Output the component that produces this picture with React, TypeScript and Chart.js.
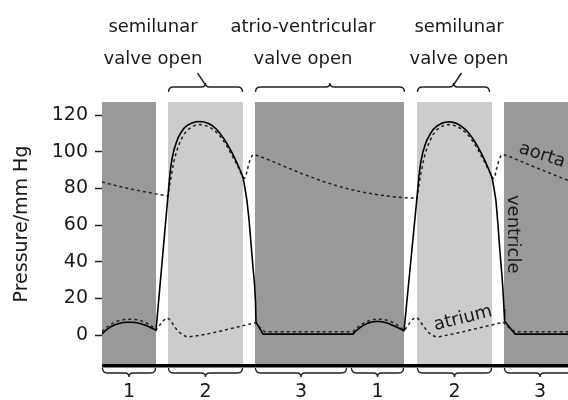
import { useEffect, useRef } from 'react';
import { Chart, registerables } from 'chart.js';

Chart.register(...registerables);

// time axis (arbitrary units, one cardiac cycle ≈ 249)
const ventricleT = [0, 3, 6, 9, 13, 17, 21, 25, 29, 33, 37, 41, 45, 49, 52, 54,
  66, 67, 68, 69, 70, 72, 74, 76, 79, 82, 86, 90, 94, 98, 102, 106, 110, 114, 118, 122, 126, 130, 134, 138, 141, 143, 145, 147, 149, 151, 152.5, 153.5, 154, 161,
  251, 254, 258, 262, 266, 270, 274, 278, 282, 286, 290, 294, 298, 302,
  315, 316, 317, 318, 319, 321, 323, 325, 328, 331, 335, 339, 343, 347, 351, 355, 359, 363, 367, 371, 375, 379, 383, 387, 390, 392, 394, 396, 398, 400, 401, 402, 402.6, 413, 466];
const ventricleP = [0.5, 2.2, 3.5, 4.6, 5.6, 6.3, 6.8, 7.0, 7.0, 6.8, 6.4, 5.8, 5.0, 4.0, 3.2, 2.5,
  76, 82, 88, 92.5, 96, 101, 104.5, 107.5, 110.5, 112.8, 114.6, 115.7, 116.3, 116.5, 116.2, 115.5, 114.3, 112.5, 110, 107, 103.5, 99.5, 95, 90, 86, 80, 73, 63, 50, 37, 28, 18, 7, 0.5,
  0.5, 2.3, 4, 5.5, 6.5, 7.1, 7.4, 7.4, 7.0, 6.4, 5.5, 4.5, 3.4, 2.3,
  75, 81, 87, 91.5, 95, 100, 103.5, 106.5, 109.5, 112, 114, 115.3, 116, 116.3, 116, 115.3, 114, 112.3, 110, 107, 103.5, 99.5, 95, 90, 86, 80, 73, 60, 45, 32, 24, 14, 7.5, 0.5, 0.5];

const aortaT = [0, 10, 20, 30, 40, 50, 60, 66, 68, 70, 72, 74, 76, 79, 82, 86, 90, 94, 98, 102, 106, 110, 114, 118, 122, 126, 130, 134, 138, 141, 142.5, 144, 146, 148, 150, 152, 160, 170, 180, 190, 200, 210, 220, 230, 240, 250, 260, 270, 280, 290, 300, 310, 315,
  317, 319, 321, 323, 325, 328, 331, 335, 339, 343, 347, 351, 355, 359, 363, 367, 371, 375, 379, 383, 387, 390, 391.5, 393, 395, 397, 399, 401, 410, 420, 430, 440, 450, 460, 466];
const aortaP = [83.5, 82, 80.7, 79.5, 78.4, 77.4, 76.4, 75.8, 83, 89, 95, 99, 102.5, 106.5, 109.5, 112, 113.6, 114.5, 114.8, 114.5, 113.8, 112.5, 110.8, 108.5, 105.5, 102, 98, 94, 89.5, 86, 85.5, 87, 91.5, 95.5, 97.8, 98.5, 97, 94.8, 92.5, 90.2, 88, 86, 84, 82.2, 80.6, 79.2, 78, 77, 76.2, 75.5, 75, 74.7, 74.5,
  82, 88.5, 94, 98.5, 102, 106, 109.3, 112, 113.6, 114.5, 114.8, 114.5, 113.8, 112.5, 110.8, 108.5, 105.5, 102, 98, 94, 89.5, 86, 85.5, 87, 91.5, 95.5, 97.8, 98.5, 96.8, 94.5, 92.2, 90, 87.8, 85.6, 84.4];

const atriumT = [0, 4, 8, 12, 16, 20, 25, 30, 35, 40, 44, 48, 51, 54, 57, 60, 63, 65, 67, 69, 72, 75, 78, 81, 84, 88, 98, 108, 118, 128, 138, 148, 153, 156, 160, 163,
  251, 254, 258, 262, 266, 270, 275, 280, 285, 290, 294, 298, 302, 305, 308, 311, 314, 316, 318, 321, 324, 327, 330, 333, 337, 348, 358, 368, 378, 388, 398, 401, 404, 409, 414, 466];
const atriumP = [1.8, 4, 5.6, 6.8, 7.7, 8.3, 8.6, 8.6, 8.3, 7.6, 6.7, 5.5, 4.3, 2.7, 4.8, 7, 8.8, 9.3, 8.8, 7.5, 5, 2.8, 1.2, 0, -0.8, -0.9, -0.2, 0.9, 2.1, 3.4, 4.7, 6, 6.7, 5, 3, 1.8,
  1.8, 3.5, 5.3, 6.6, 7.6, 8.3, 8.7, 8.6, 8.1, 7.1, 5.9, 4.4, 2.3, 4.5, 6.8, 8.7, 9.6, 9, 7.6, 5.2, 3, 1.2, 0, -0.8, -0.9, 0.2, 1.4, 2.7, 4, 5.3, 6.6, 7.1, 5.5, 3, 1.8, 1.8];

const tickValues = [0, 20, 40, 60, 80, 100, 120];

// shaded phases
const regionStart = [0, 66, 153, 315, 402];
const regionEnd = [54, 141, 302, 390, 466];
const regionColor = ['#999999', '#cccccc', '#999999', '#cccccc', '#999999'];

// bottom phase brackets
const phaseStart = [0, 66, 153, 249, 315, 402];
const phaseEnd = [54, 141, 245, 302, 390, 474];
const phaseLabels = ['1', '2', '3', '1', '2', '3'];

// top valve brackets
const valveStart = [66, 153, 315];
const valveEnd = [141, 303, 388];
const valveLine1 = ['semilunar', 'atrio-ventricular', 'semilunar'];
const valveLine2 = ['valve open', 'valve open', 'valve open'];
const valveTextX = [153, 303, 459];

const FONT = '"DejaVu Sans", sans-serif';
const INK = '#1a1a1a';

const bgPlugin = {
  id: 'phaseBg',
  beforeDatasetsDraw(chart: any) {
    const { ctx, chartArea, scales } = chart;
    const xs = scales.x;
    ctx.save();
    for (let i = 0; i < regionStart.length; i++) {
      const x0 = xs.getPixelForValue(regionStart[i]);
      const x1 = xs.getPixelForValue(regionEnd[i]);
      ctx.fillStyle = regionColor[i];
      ctx.fillRect(x0, chartArea.top, x1 - x0, chartArea.bottom - chartArea.top);
    }
    ctx.restore();
  },
};

const overlayPlugin = {
  id: 'overlay',
  afterDraw(chart: any) {
    const { ctx, chartArea, scales } = chart;
    const xs = scales.x;
    const ys = scales.y;
    ctx.save();
    // base line
    ctx.strokeStyle = '#000';
    ctx.lineWidth = 3.5;
    ctx.beginPath();
    ctx.moveTo(chartArea.left, chartArea.bottom + 1.8);
    ctx.lineTo(chartArea.right, chartArea.bottom + 1.8);
    ctx.stroke();

    // bottom brackets
    ctx.strokeStyle = '#222';
    ctx.lineWidth = 1.4;
    ctx.fillStyle = INK;
    ctx.font = `19px ${FONT}`;
    ctx.textAlign = 'center';
    ctx.textBaseline = 'alphabetic';
    const by = chartArea.bottom + 9;
    for (let i = 0; i < phaseStart.length; i++) {
      const x0 = xs.getPixelForValue(phaseStart[i]) + 0.5;
      const x1 = xs.getPixelForValue(phaseEnd[i]) - 0.5;
      const xc = (x0 + x1) / 2;
      ctx.beginPath();
      ctx.moveTo(x0, by - 5);
      ctx.quadraticCurveTo(x0, by, x0 + 5, by);
      ctx.lineTo(xc - 4, by);
      ctx.quadraticCurveTo(xc, by, xc, by + 4);
      ctx.quadraticCurveTo(xc, by, xc + 4, by);
      ctx.lineTo(x1 - 5, by);
      ctx.quadraticCurveTo(x1, by, x1, by - 5);
      ctx.stroke();
      ctx.fillText(phaseLabels[i], xc, 397);
    }

    // top brackets
    const ty = 87;
    for (let i = 0; i < valveStart.length; i++) {
      const x0 = xs.getPixelForValue(valveStart[i]) + 0.5;
      const x1 = xs.getPixelForValue(valveEnd[i]) - 0.5;
      const xc = (x0 + x1) / 2;
      ctx.beginPath();
      ctx.moveTo(x0, ty + 5);
      ctx.quadraticCurveTo(x0, ty, x0 + 5, ty);
      ctx.lineTo(xc - 4, ty);
      ctx.quadraticCurveTo(xc, ty, xc, ty - 4);
      ctx.quadraticCurveTo(xc, ty, xc + 4, ty);
      ctx.lineTo(x1 - 5, ty);
      ctx.quadraticCurveTo(x1, ty, x1, ty + 5);
      ctx.stroke();
      if (i !== 1) {
        const dir = xc > valveTextX[i] ? -1 : 1;
        ctx.beginPath();
        ctx.moveTo(xc, ty - 2);
        ctx.lineTo(xc + dir * 8, ty - 14);
        ctx.stroke();
      }
      ctx.font = `18px ${FONT}`;
      ctx.fillText(valveLine1[i], valveTextX[i], 32);
      ctx.fillText(valveLine2[i], valveTextX[i], 64);
    }

    // y title
    ctx.save();
    ctx.translate(27, 224);
    ctx.rotate(-Math.PI / 2);
    ctx.font = `19px ${FONT}`;
    ctx.textBaseline = 'alphabetic';
    ctx.fillText('Pressure/mm Hg', 0, 0);
    ctx.restore();

    // curve labels
    const lbl = (text: string, t: number, v: number, deg: number) => {
      ctx.save();
      ctx.translate(xs.getPixelForValue(t), ys.getPixelForValue(v));
      ctx.rotate((deg * Math.PI) / 180);
      ctx.font = `18px ${FONT}`;
      ctx.textAlign = 'center';
      ctx.textBaseline = 'middle';
      ctx.fillStyle = INK;
      ctx.fillText(text, 0, 0);
      ctx.restore();
    };
    lbl('aorta', 440, 98, 18);
    lbl('ventricle', 411, 55, 90);
    lbl('atrium', 361, 9, -14);
    ctx.restore();
  },
};

export default function App() {
  const ref = useRef<HTMLCanvasElement | null>(null);
  useEffect(() => {
    if (!ref.current) return;
    const mk = (t: number[], p: number[]) => t.map((x, i) => ({ x, y: p[i] }));
    const common = { pointRadius: 0, tension: 0, fill: false, borderJoinStyle: 'round' as const };
    const chart = new Chart(ref.current, {
      type: 'line',
      data: {
        datasets: [
          { label: 'ventricle', data: mk(ventricleT, ventricleP), borderColor: '#000', borderWidth: 1.6, ...common },
          { label: 'aorta', data: mk(aortaT, aortaP), borderColor: '#222', borderWidth: 1.5, borderDash: [3, 3], ...common },
          { label: 'atrium', data: mk(atriumT, atriumP), borderColor: '#222', borderWidth: 1.5, borderDash: [3, 3], ...common },
        ],
      },
      options: {
        animation: false,
        responsive: false,
        devicePixelRatio: 1,
        layout: { padding: { left: 0, top: 102, right: 0, bottom: 36 } },
        plugins: { legend: { display: false }, tooltip: { enabled: false } },
        scales: {
          x: { type: 'linear', min: 0, max: 466, display: false },
          y: {
            min: -15.8,
            max: 127.1,
            afterFit: (s: any) => {
              s.width = 102;
            },
            afterBuildTicks: (s: any) => {
              s.ticks = tickValues.map((v) => ({ value: v }));
            },
            grid: { drawOnChartArea: false, drawTicks: true, tickLength: 7, tickColor: '#222', tickWidth: 1.5 },
            border: { display: false },
            ticks: { padding: 7, color: INK, font: { family: FONT, size: 19 } },
          },
        },
      } as any,
      plugins: [bgPlugin, overlayPlugin],
    });
    return () => chart.destroy();
  }, []);
  return (
    <div style={{ position: 'fixed', left: 0, top: 0, width: 568, height: 400, background: '#fff' }}>
      <canvas ref={ref} width={568} height={400} />
    </div>
  );
}
